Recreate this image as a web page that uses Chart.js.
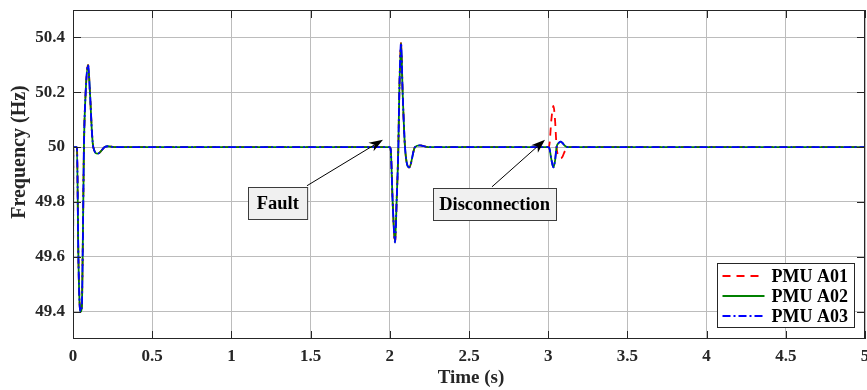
<!DOCTYPE html>
<html>
<head>
<meta charset="utf-8">
<title>PMU frequency</title>
<script src="https://cdn.jsdelivr.net/npm/chart.js@4.4.0/dist/chart.umd.min.js"></script>
<style>
    html, body { margin: 0; padding: 0; background: #fff; }
    #wrap { width: 867px; height: 390px; position: relative; }
</style>
</head>
<body>
<div id="wrap"><canvas id="line-chart"></canvas></div>
<script>
// time stamps (s)
const timeS = [0, 0.002, 0.025, 0.034, 0.044, 0.05, 0.056, 0.061, 0.069, 0.08, 0.095, 0.107, 0.12, 0.128, 0.156, 0.2, 0.22, 0.26,
    2.0, 2.006, 2.018, 2.033, 2.043, 2.054, 2.06, 2.071, 2.081, 2.096, 2.123, 2.159, 2.19, 2.243,
    3.0, 3.008, 3.02, 3.033, 3.043, 3.053, 3.066, 3.079, 3.09, 3.105, 3.125, 3.15, 5.0];

// frequency (Hz) for each PMU
const pmuA01 = [49.3, 50, 50, 49.6, 49.41, 49.4, 49.42, 49.6, 50.0, 50.2, 50.3, 50.2, 50.05, 50.0, 49.976, 50.0, 50.003, 50.0,
    50.0, 49.99, 49.8, 49.652, 49.8, 50.0, 50.2, 50.38, 50.2, 50.0, 49.926, 50.0, 50.006, 50.0,
    50.0, 50.01, 50.1, 50.15, 50.1, 50.0, 49.965, 49.96, 49.965, 49.985, 50.0, 50.0, 50.0];
const pmuA02 = [49.3, 50, 50, 49.6, 49.41, 49.4, 49.42, 49.6, 50.0, 50.2, 50.3, 50.2, 50.05, 50.0, 49.976, 50.0, 50.003, 50.0,
    50.0, 49.99, 49.8, 49.652, 49.8, 50.0, 50.2, 50.38, 50.2, 50.0, 49.926, 50.0, 50.006, 50.0,
    50.0, 49.995, 49.955, 49.926, 49.95, 50.0, 50.015, 50.02, 50.015, 50.005, 50.0, 50.0, 50.0];
const pmuA03 = [49.3, 50, 50, 49.6, 49.41, 49.4, 49.42, 49.6, 50.0, 50.2, 50.3, 50.2, 50.05, 50.0, 49.976, 50.0, 50.003, 50.0,
    50.0, 49.99, 49.8, 49.652, 49.8, 50.0, 50.2, 50.38, 50.2, 50.0, 49.926, 50.0, 50.006, 50.0,
    50.0, 49.995, 49.955, 49.926, 49.95, 50.0, 50.015, 50.02, 50.015, 50.005, 50.0, 50.0, 50.0];

const seriesLabels = ['PMU A01', 'PMU A02', 'PMU A03'];

// tick values and labels
const xTicks = [0, 0.5, 1, 1.5, 2, 2.5, 3, 3.5, 4, 4.5, 5];
const xTickLabels = ['0', '0.5', '1', '1.5', '2', '2.5', '3', '3.5', '4', '4.5', '5'];
const yTicks = [49.4, 49.6, 49.8, 50, 50.2, 50.4];
const yTickLabels = ['49.4', '49.6', '49.8', '50', '50.2', '50.4'];

const serif = "'Liberation Serif', 'Times New Roman', serif";

function toPoints(values) {
    return timeS.map((t, i) => ({ x: t, y: values[i] }));
}

// series styles (red dashed, green solid, blue dash-dot)
const styles = [
    { color: '#ff0000', dash: [8, 6] },
    { color: '#008000', dash: [] },
    { color: '#0000ff', dash: [8, 3, 2, 3] }
];

// annotation boxes with arrows, placed in data units
const notes = [
    { text: 'Fault', cx: 1.293, cy: 49.797, padX: 8.5, tail: [1.477, 49.859], tip: [1.957, 50.027] },
    { text: 'Disconnection', cx: 2.662, cy: 49.793, padX: 6, tail: [2.645, 49.855], tip: [2.98, 50.027] }
];

const framePlugin = {
    id: 'frame',
    afterDatasetsDraw(chart) {
        const ctx = chart.ctx;
        const a = chart.chartArea;
        const xs = chart.scales.x;
        const ys = chart.scales.y;
        ctx.save();
        ctx.strokeStyle = '#262626';
        ctx.lineWidth = 1;
        ctx.strokeRect(a.left + 0.5, a.top + 0.5, a.right - a.left - 1, a.bottom - a.top - 1);
        // inward tick marks on all four sides
        ctx.beginPath();
        xTicks.forEach(v => {
            const px = Math.round(xs.getPixelForValue(v)) + 0.5;
            ctx.moveTo(px, a.bottom); ctx.lineTo(px, a.bottom - 8);
            ctx.moveTo(px, a.top); ctx.lineTo(px, a.top + 8);
        });
        yTicks.forEach(v => {
            const py = Math.round(ys.getPixelForValue(v)) + 0.5;
            ctx.moveTo(a.left, py); ctx.lineTo(a.left + 8, py);
            ctx.moveTo(a.right, py); ctx.lineTo(a.right - 8, py);
        });
        ctx.stroke();
        ctx.restore();
    },
    afterDraw(chart) {
        const ctx = chart.ctx;
        const a = chart.chartArea;
        const xs = chart.scales.x;
        const ys = chart.scales.y;
        ctx.save();

        // axis titles
        ctx.fillStyle = '#262626';
        ctx.textAlign = 'center';
        ctx.textBaseline = 'middle';
        ctx.font = 'bold 19px ' + serif;
        ctx.fillText('Time (s)', (a.left + a.right) / 2 + 2, 378);
        ctx.save();
        ctx.translate(20, 152);
        ctx.rotate(-Math.PI / 2);
        ctx.font = 'bold 20px ' + serif;
        ctx.fillText('Frequency (Hz)', 0, 0);
        ctx.restore();

        // annotations
        ctx.font = 'bold 18.5px ' + serif;
        notes.forEach(n => {
            const tx = xs.getPixelForValue(n.tail[0]), ty = ys.getPixelForValue(n.tail[1]);
            const hx = xs.getPixelForValue(n.tip[0]), hy = ys.getPixelForValue(n.tip[1]);
            const ang = Math.atan2(hy - ty, hx - tx);
            ctx.strokeStyle = '#000';
            ctx.fillStyle = '#000';
            ctx.lineWidth = 1;
            ctx.beginPath();
            ctx.moveTo(tx, ty);
            ctx.lineTo(hx - 10 * Math.cos(ang), hy - 10 * Math.sin(ang));
            ctx.stroke();
            ctx.beginPath();
            ctx.moveTo(hx, hy);
            ctx.lineTo(hx - 14 * Math.cos(ang) + 5 * Math.sin(ang), hy - 14 * Math.sin(ang) - 5 * Math.cos(ang));
            ctx.lineTo(hx - 10 * Math.cos(ang), hy - 10 * Math.sin(ang));
            ctx.lineTo(hx - 14 * Math.cos(ang) - 5 * Math.sin(ang), hy - 14 * Math.sin(ang) + 5 * Math.cos(ang));
            ctx.closePath();
            ctx.fill();

            const cx = xs.getPixelForValue(n.cx), cy = ys.getPixelForValue(n.cy);
            const w = ctx.measureText(n.text).width + 2 * n.padX;
            const h = 32;
            const bx = Math.round(cx - w / 2) + 0.5, by = Math.round(cy - h / 2) + 0.5;
            ctx.fillStyle = '#f0f0f0';
            ctx.fillRect(bx, by, w, h);
            ctx.strokeStyle = '#3c3c3c';
            ctx.strokeRect(bx, by, w, h);
            ctx.fillStyle = '#000';
            ctx.textAlign = 'center';
            ctx.fillText(n.text, cx, cy + 1);
        });

        // legend in the lower right corner
        const lw = 137, lh = 64;
        const lx = a.right - 11 - lw + 0.5, ly = a.bottom - 12 - lh + 0.5;
        ctx.fillStyle = '#fff';
        ctx.fillRect(lx, ly, lw, lh);
        ctx.strokeStyle = '#262626';
        ctx.lineWidth = 1;
        ctx.strokeRect(lx, ly, lw, lh);
        ctx.font = 'bold 18px ' + serif;
        ctx.textAlign = 'left';
        ctx.textBaseline = 'middle';
        seriesLabels.forEach((label, i) => {
            const rowY = ly + 12.5 + i * 20;
            ctx.strokeStyle = styles[i].color;
            ctx.lineWidth = 1.8;
            ctx.setLineDash(styles[i].dash);
            ctx.beginPath();
            ctx.moveTo(lx + 5, rowY);
            ctx.lineTo(lx + 47, rowY);
            ctx.stroke();
            ctx.setLineDash([]);
            ctx.fillStyle = '#000';
            ctx.fillText(label, lx + 54, rowY + 1);
        });
        ctx.restore();
    }
};

function createChart() {
    const lineChart = document.getElementById('line-chart');
    const seriesData = [pmuA01, pmuA02, pmuA03];

    const datasets = seriesData.map((values, i) => ({
        label: seriesLabels[i],
        data: toPoints(values),
        borderColor: styles[i].color,
        borderDash: styles[i].dash,
        borderWidth: 1.8,
        pointRadius: 0,
        fill: false,
        cubicInterpolationMode: 'monotone',
        order: 2 - i        // blue on top, red at the bottom
    }));

    new Chart(lineChart, {
        type: 'line',
        data: { datasets: datasets },
        options: {
            responsive: true,
            maintainAspectRatio: false,
            animation: false,
            layout: { padding: { top: 10, right: 2, left: 0, bottom: 0 } },
            scales: {
                x: {
                    type: 'linear',
                    min: 0,
                    max: 5,
                    afterBuildTicks: scale => { scale.ticks = xTicks.map(v => ({ value: v })); },
                    afterFit: scale => {
                        scale.height = 51;
                        scale.paddingLeft = 0;    // stop label overflow from shrinking the plot
                        scale.paddingRight = 0;
                    },
                    ticks: {
                        autoSkip: false,
                        maxRotation: 0,
                        padding: 7,
                        color: '#262626',
                        font: { family: serif, size: 17, weight: 'bold' },
                        callback: (v, i) => xTickLabels[i]
                    },
                    grid: { color: '#bcbcbc', drawTicks: false },
                    border: { display: false }
                },
                y: {
                    type: 'linear',
                    min: 49.3,
                    max: 50.5,
                    afterBuildTicks: scale => { scale.ticks = yTicks.map(v => ({ value: v })); },
                    afterFit: scale => {
                        scale.width = 73;
                        scale.paddingTop = 0;
                        scale.paddingBottom = 0;
                    },
                    ticks: {
                        padding: 8,
                        color: '#262626',
                        font: { family: serif, size: 17, weight: 'bold' },
                        callback: (v, i) => yTickLabels[i]
                    },
                    grid: { color: '#bcbcbc', drawTicks: false },
                    border: { display: false }
                }
            },
            plugins: {
                legend: { display: false },
                tooltip: { enabled: false }
            }
        },
        plugins: [framePlugin]
    });
}

createChart();
</script>
</body>
</html>
